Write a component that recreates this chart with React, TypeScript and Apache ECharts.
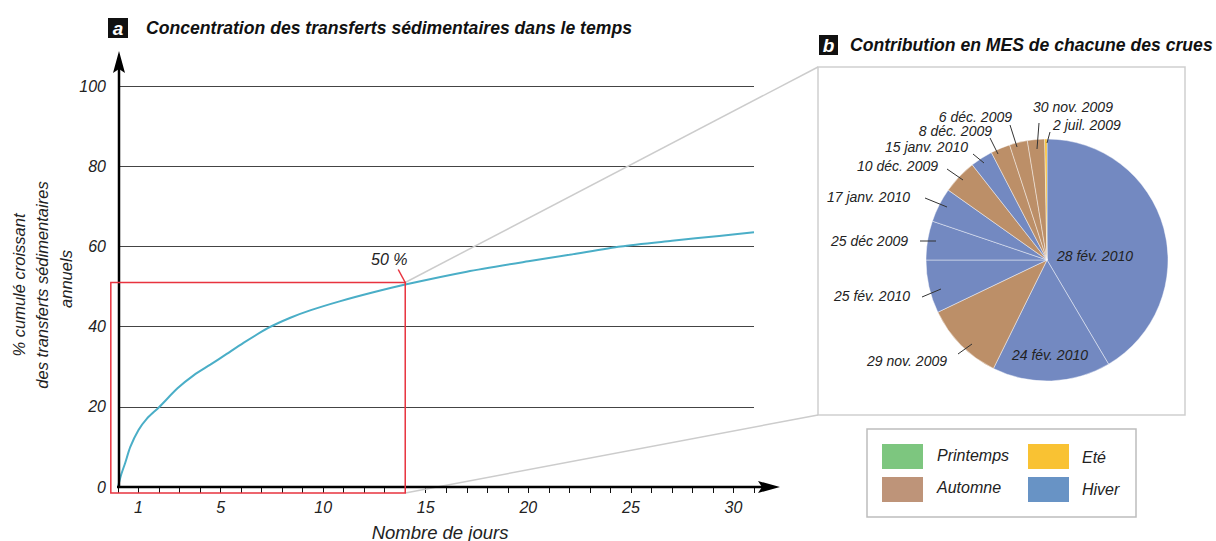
import React, { useEffect, useRef } from "react";
import * as echarts from "echarts";

// ---- Data (a): cumulative % of annual sediment transfer vs number of days
const days = [0, 0.15, 0.35, 0.6, 1, 1.4, 2, 2.9, 3.7, 4.5, 5.3, 6.1, 7.3, 8.4, 9.4, 10.8, 12.4, 14, 17, 20, 22, 24.5, 27, 29.3, 31];
const cumulative = [0, 3, 6, 10, 14.2, 17, 19.9, 24.6, 27.9, 30.5, 33.2, 35.9, 39.6, 42.2, 44.1, 46.3, 48.5, 50.5, 53.7, 56.3, 57.9, 60, 61.4, 62.6, 63.5];
const xTickLabels = [1, 5, 10, 15, 20, 25, 30];
const yTicks = [0, 20, 40, 60, 80, 100];
const highlightDay = 14;
const highlightValue = 51;

// ---- Data (b): contribution of each flood
const floodNames = ["28 fév. 2010", "24 fév. 2010", "29 nov. 2009", "25 fév. 2010", "25 déc 2009", "17 janv. 2010", "10 déc. 2009", "15 janv. 2010", "8 déc. 2009", "6 déc. 2009", "30 nov. 2009", "2 juil. 2009"];
const floodShares = [41.5, 15.8, 10.6, 7.1, 5.2, 4.6, 4.6, 3.0, 2.6, 2.4, 2.3, 0.3];
const floodSeasons = ["Hiver", "Hiver", "Automne", "Hiver", "Hiver", "Hiver", "Automne", "Hiver", "Automne", "Automne", "Automne", "Eté"];
const seasons = ["Printemps", "Automne", "Eté", "Hiver"];

const pieSeasonColor: Record<string, string> = {
  Printemps: "#7dc67f",
  Automne: "#bc8f68",
  Eté: "#f6bd2e",
  Hiver: "#7389c1",
};
const legendSeasonColor: Record<string, string> = {
  Printemps: "#7dc67f",
  Automne: "#be9479",
  Eté: "#f9c233",
  Hiver: "#6893c5",
};

const FONT = "Liberation Sans, Arial, sans-serif";

// label anchor positions (layout only)
const labelAnchor: Record<number, { x: number; y: number; align: string }> = {
  0: { x: 1095, y: 256, align: "center" },
  1: { x: 1050, y: 355, align: "center" },
  2: { x: 947, y: 361, align: "right" },
  3: { x: 910, y: 296, align: "right" },
  4: { x: 908, y: 241, align: "right" },
  5: { x: 910, y: 197, align: "right" },
  6: { x: 938, y: 166, align: "right" },
  7: { x: 968, y: 147, align: "right" },
  8: { x: 992, y: 130.5, align: "right" },
  9: { x: 1012, y: 116.5, align: "right" },
  10: { x: 1033, y: 107, align: "left" },
  11: { x: 1053, y: 125, align: "left" },
};
// leader ticks for outside labels (layout only)
const leaderTicks: number[][] = [
  [958, 354, 972, 344],
  [922, 297, 941, 289],
  [920, 241, 936, 241],
  [925, 198, 947, 207],
  [947, 169, 963, 180],
  [973, 154, 984, 163],
  [990, 138, 998, 154],
  [1010, 125, 1017, 147],
  [1039, 123, 1037, 149],
  [1050, 132, 1047, 143],
];

export default function App() {
  const ref = useRef<HTMLDivElement>(null);

  useEffect(() => {
    if (!ref.current) return;
    const chart = echarts.init(ref.current, undefined, { renderer: "svg" });

    const lineData = days.map((d, i) => [d, cumulative[i]]);
    const pieData = floodNames.map((n, i) => ({
      name: n,
      value: floodShares[i],
      itemStyle: { color: pieSeasonColor[floodSeasons[i]] },
    }));

    chart.setOption({
      animation: false,
      grid: { left: 118, top: 86, width: 636, height: 401, containLabel: false },
      xAxis: {
        type: "value",
        min: 0,
        max: 31,
        interval: 1,
        axisLine: { show: false },
        axisTick: { show: true, length: 6, lineStyle: { color: "#111", width: 1 } },
        splitLine: { show: false },
        axisLabel: {
          margin: 12,
          fontFamily: FONT,
          fontStyle: "italic",
          fontSize: 16,
          color: "#222",
          formatter: (v: number) => (xTickLabels.includes(v) ? String(v) : ""),
        },
      },
      yAxis: {
        type: "value",
        min: 0,
        max: 100,
        interval: 20,
        axisLine: { show: false },
        axisTick: { show: false },
        splitLine: { show: true, lineStyle: { color: "#444", width: 1 } },
        axisLabel: {
          margin: 12,
          fontFamily: FONT,
          fontStyle: "italic",
          fontSize: 16,
          color: "#222",
          formatter: (v: number) => (yTicks.includes(v) ? String(v) : ""),
        },
      },
      series: [
        {
          type: "line",
          data: lineData,
          showSymbol: false,
          smooth: 0.25,
          lineStyle: { color: "#4aaec7", width: 2 },
          z: 5,
        },
        {
          type: "pie",
          center: [1047, 260],
          radius: 121,
          startAngle: 90,
          clockwise: true,
          avoidLabelOverlap: false,
          data: pieData,
          itemStyle: { borderColor: "rgba(255,255,255,0.55)", borderWidth: 0.8 },
          label: {
            show: true,
            position: "inside",
            formatter: "{b}",
            fontFamily: FONT,
            fontStyle: "italic",
            fontSize: 14,
            lineHeight: 13,
            color: "#222",
          },
          labelLine: { show: false },
          labelLayout: (p: any) => {
            const a = labelAnchor[p.dataIndex];
            return { x: a.x, y: a.y, align: a.align, verticalAlign: "middle" };
          },
          z: 3,
        },
      ],
    });

    const pTop = chart.convertToPixel({ gridIndex: 0 }, [highlightDay, highlightValue]) as number[];
    const pLow = chart.convertToPixel({ gridIndex: 0 }, [-0.35, -1.5]) as number[];
    const pOrigin = chart.convertToPixel({ gridIndex: 0 }, [0, 0]) as number[];

    const boxX = 818, boxY = 67, boxW = 367, boxH = 348;
    const legX = 867, legY = 429, legW = 269, legH = 88;
    const legPos = [
      { sx: 882, sy: 444, tx: 937, ty: 455 },
      { sx: 882, sy: 477, tx: 937, ty: 487 },
      { sx: 1028, sy: 444, tx: 1082, ty: 457 },
      { sx: 1028, sy: 477, tx: 1082, ty: 489 },
    ];

    const graphic: any[] = [
      // pie frame
      { type: "rect", z: -1, shape: { x: boxX, y: boxY, width: boxW, height: boxH }, style: { fill: "#fff", stroke: "#cfcfcf", lineWidth: 1.5 } },
      // zoom lines
      { type: "line", z: 1, shape: { x1: pTop[0], y1: pTop[1], x2: boxX, y2: boxY }, style: { stroke: "#cccccc", lineWidth: 1.5 } },
      { type: "line", z: 1, shape: { x1: pTop[0], y1: pLow[1], x2: boxX, y2: boxY + boxH }, style: { stroke: "#cccccc", lineWidth: 1.5 } },
      // red box
      { type: "rect", z: 20, shape: { x: pLow[0], y: pTop[1], width: pTop[0] - pLow[0], height: pLow[1] - pTop[1] }, style: { fill: "none", stroke: "#e8333f", lineWidth: 1.5 } },
      { type: "line", z: 20, shape: { x1: pTop[0], y1: pTop[1], x2: pTop[0] - 7, y2: pTop[1] - 13 }, style: { stroke: "#e8333f", lineWidth: 1.5 } },
      { type: "text", z: 20, x: pTop[0] - 16, y: pTop[1] - 23, style: { text: "50 %", fontFamily: FONT, fontStyle: "italic", fontSize: 16, fill: "#222", align: "center", verticalAlign: "middle" } },
      // axes
      { type: "line", z: 15, shape: { x1: pOrigin[0] + 1, y1: pOrigin[1] + 1, x2: pOrigin[0] + 1, y2: 66 }, style: { stroke: "#000", lineWidth: 2.5 } },
      { type: "polygon", z: 15, shape: { points: [[pOrigin[0] + 1, 51], [pOrigin[0] - 5, 73], [pOrigin[0] + 1, 69], [pOrigin[0] + 7, 73]] }, style: { fill: "#000" } },
      { type: "line", z: 15, shape: { x1: pOrigin[0] - 1, y1: pOrigin[1], x2: 768, y2: pOrigin[1] }, style: { stroke: "#000", lineWidth: 2.5 } },
      { type: "polygon", z: 15, shape: { points: [[780, pOrigin[1]], [758, pOrigin[1] - 6], [762, pOrigin[1]], [758, pOrigin[1] + 6]] }, style: { fill: "#000" } },
      // axis names
      { type: "text", x: 440, y: 532, style: { text: "Nombre de jours", fontFamily: FONT, fontStyle: "italic", fontSize: 18.5, fill: "#222", align: "center", verticalAlign: "middle" } },
      { type: "text", x: 19, y: 285, rotation: Math.PI / 2, style: { text: "% cumulé croissant", fontFamily: FONT, fontStyle: "italic", fontSize: 16.5, fill: "#222", align: "center", verticalAlign: "middle" } },
      { type: "text", x: 42, y: 285, rotation: Math.PI / 2, style: { text: "des transferts sédimentaires", fontFamily: FONT, fontStyle: "italic", fontSize: 16.5, fill: "#222", align: "center", verticalAlign: "middle" } },
      { type: "text", x: 66, y: 279, rotation: Math.PI / 2, style: { text: "annuels", fontFamily: FONT, fontStyle: "italic", fontSize: 16.5, fill: "#222", align: "center", verticalAlign: "middle" } },
      // titles
      { type: "rect", shape: { x: 108, y: 18, width: 20, height: 20 }, style: { fill: "#111" } },
      { type: "text", x: 118, y: 28.5, style: { text: "a", fontFamily: FONT, fontStyle: "italic", fontWeight: "bold", fontSize: 19, fill: "#fff", align: "center", verticalAlign: "middle" } },
      { type: "text", x: 146, y: 28, style: { text: "Concentration des transferts sédimentaires dans le temps", fontFamily: FONT, fontStyle: "italic", fontWeight: "bold", fontSize: 17.6, fill: "#111", align: "left", verticalAlign: "middle" } },
      { type: "rect", shape: { x: 819, y: 35, width: 19, height: 20 }, style: { fill: "#111" } },
      { type: "text", x: 828.5, y: 45.5, style: { text: "b", fontFamily: FONT, fontStyle: "italic", fontWeight: "bold", fontSize: 19, fill: "#fff", align: "center", verticalAlign: "middle" } },
      { type: "text", x: 850, y: 45, style: { text: "Contribution en MES de chacune des crues", fontFamily: FONT, fontStyle: "italic", fontWeight: "bold", fontSize: 17.6, fill: "#111", align: "left", verticalAlign: "middle" } },
      // legend
      { type: "rect", shape: { x: legX, y: legY, width: legW, height: legH }, style: { fill: "#fff", stroke: "#bdbdbd", lineWidth: 1.5 } },
    ];
    leaderTicks.forEach((t) => {
      graphic.push({ type: "line", z: 10, shape: { x1: t[0], y1: t[1], x2: t[2], y2: t[3] }, style: { stroke: "#333", lineWidth: 1 } });
    });
    seasons.forEach((s, i) => {
      const p = legPos[i];
      graphic.push({ type: "rect", shape: { x: p.sx, y: p.sy, width: 41, height: 25 }, style: { fill: legendSeasonColor[s] } });
      graphic.push({ type: "text", x: p.tx, y: p.ty, style: { text: s, fontFamily: FONT, fontStyle: "italic", fontSize: 16, fill: "#222", align: "left", verticalAlign: "middle" } });
    });

    chart.setOption({ graphic });

    return () => chart.dispose();
  }, []);

  return <div ref={ref} style={{ position: "fixed", left: 0, top: 0, width: 1216, height: 541, background: "#fff" }} />;
}
